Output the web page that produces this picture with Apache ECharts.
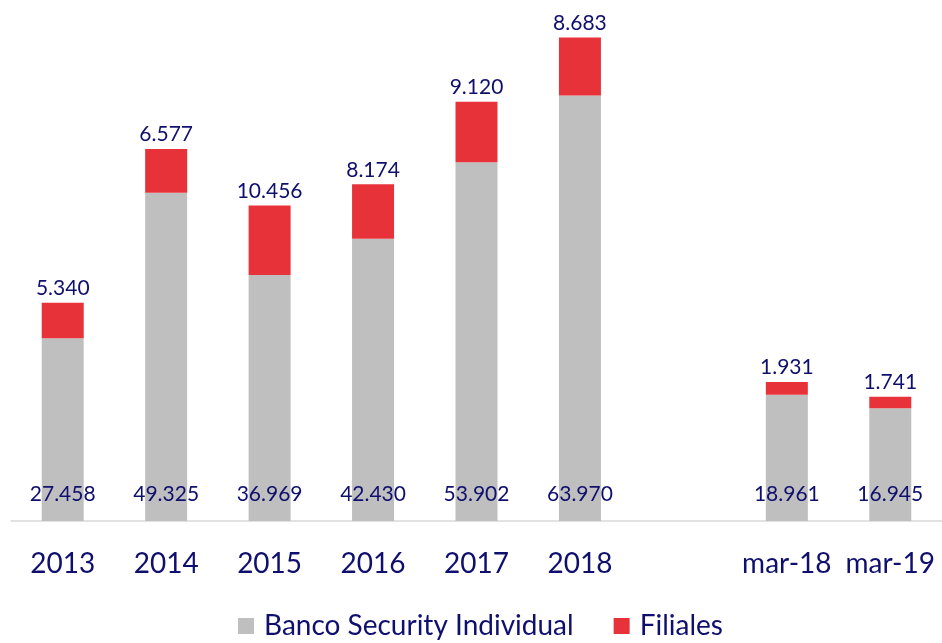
<!DOCTYPE html>
<html>
<head>
<meta charset="utf-8">
<script src="https://cdn.jsdelivr.net/npm/echarts@6/dist/echarts.min.js"></script>
<style>
  html, body { margin: 0; padding: 0; background: #fff; }
  #chart { width: 942px; height: 643px; }
</style>
</head>
<body>
<div id="chart"></div>
<script>
// categories (the blank one is the gap before the March figures)
const categories = ['2013', '2014', '2015', '2016', '2017', '2018', '', 'mar-18', 'mar-19']
const banco = [27458, 49325, 36969, 42430, 53902, 63970, null, 18961, 16945]
const filiales = [5340, 6577, 10456, 8174, 9120, 8683, null, 1931, 1741]

const navy = '#0F0F6E'
const fontFamily = 'Lato, "Noto Sans", sans-serif'

// 12345 -> 12.345
const fmt = v => (v == null ? '' : String(v).replace(/\B(?=(\d{3})+(?!\d))/g, '.'))

const Chart = echarts.init(document.getElementById('chart'))
const option = {
  animation: false,
  textStyle: { fontFamily: fontFamily },
  grid: { left: 11, right: 0, top: 22, bottom: 122 },
  legend: {
    top: 612,
    left: 238,
    padding: 0,
    itemWidth: 16,
    itemHeight: 16,
    itemGap: 40,
    icon: 'rect',
    textStyle: { color: navy, fontSize: 28, fontFamily: fontFamily, padding: [0, 0, 0, 5] },
    data: ['Banco Security Individual', 'Filiales']
  },
  xAxis: {
    type: 'category',
    data: categories,
    axisLine: { lineStyle: { color: '#D9D9D9', width: 1.5 } },
    axisTick: { show: false },
    axisLabel: { color: navy, fontSize: 28, margin: 29, interval: 0, fontFamily: fontFamily }
  },
  yAxis: {
    type: 'value',
    min: 0,
    max: 75000,
    show: false
  },
  series: [
    {
      name: 'Banco Security Individual',
      type: 'bar',
      stack: 'total',
      barWidth: 42,
      itemStyle: { color: '#BFBFBF' },
      label: {
        show: true,
        position: 'insideBottom',
        distance: 16,
        color: navy,
        fontSize: 21,
        fontFamily: fontFamily,
        formatter: p => fmt(p.value)
      },
      data: banco
    },
    {
      name: 'Filiales',
      type: 'bar',
      stack: 'total',
      barWidth: 42,
      itemStyle: { color: '#E8323A' },
      label: {
        show: true,
        position: 'top',
        distance: 4,
        color: navy,
        fontSize: 21,
        fontFamily: fontFamily,
        formatter: p => fmt(p.value)
      },
      data: filiales
    }
  ]
}
option && Chart.setOption(option)
</script>
</body>
</html>
